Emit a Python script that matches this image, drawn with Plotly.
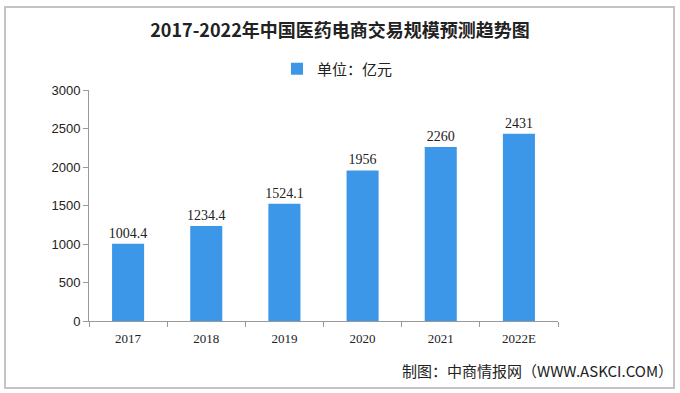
import plotly.graph_objects as go

categories = ["2017", "2018", "2019", "2020", "2021", "2022E"]
values = [1004.4, 1234.4, 1524.1, 1956, 2260, 2431]
value_labels = ["1004.4", "1234.4", "1524.1", "1956", "2260", "2431"]
y_ticks = [0, 500, 1000, 1500, 2000, 2500, 3000]

PW, PH, L, T = 469, 231, 89, 90


def px_x(x):
    return (x - L) / PW


def px_y(y):
    return (T + PH - y) / PH


fig = go.Figure()
fig.add_trace(go.Bar(
    x=categories, y=values, name="单位：亿元",
    marker=dict(color="#3d97e8", line=dict(width=0)),
    text=value_labels, textposition="outside", cliponaxis=False, constraintext="none",
    textfont=dict(family="Liberation Serif, DejaVu Serif, serif", size=14, color="#222"),
))

fig.update_layout(
    width=680, height=393,
    margin=dict(l=L, r=680 - L - PW, t=T, b=393 - T - PH),
    paper_bgcolor="white", plot_bgcolor="white",
    bargap=0.59,
    title=dict(text="<b>2017-2022年中国医药电商交易规模预测趋势图</b>",
               x=0.5, xref="container", xanchor="center", y=1 - 31 / 393, yanchor="middle",
               font=dict(family="Noto Sans CJK SC", size=18, color="#222")),
    showlegend=True,
    legend=dict(orientation="h", x=px_x(277), xref="paper", xanchor="left",
                y=px_y(69), yanchor="middle",
                font=dict(family="Noto Sans CJK SC", size=15, color="#222"),
                itemwidth=30),
    xaxis=dict(type="category", showline=True, linecolor="#999", linewidth=1,
               ticks="outside", tickson="boundaries", ticklen=5, tickcolor="#999",
               ticklabelstandoff=5,
               tickfont=dict(family="Liberation Serif, DejaVu Serif, serif", size=13, color="#222"),
               showgrid=False),
    yaxis=dict(range=[0, 3000], tickvals=y_ticks, showline=True, linecolor="#999", linewidth=1,
               ticks="outside", ticklen=5, tickcolor="#999", showgrid=False, zeroline=False,
               tickfont=dict(family="Liberation Sans, Arial, sans-serif", size=13, color="#222")),
)

fig.add_annotation(text="制图：中商情报网（WWW.ASKCI.COM）", xref="paper", yref="paper",
                   x=px_x(675), y=px_y(370), xanchor="right", yanchor="middle",
                   showarrow=False,
                   font=dict(family="Noto Sans CJK SC", size=15, color="#222"))
fig.add_shape(type="rect", xref="paper", yref="paper", layer="below",
              x0=px_x(5), x1=px_x(674), y0=px_y(388), y1=px_y(7),
              line=dict(color="#c4c4c4", width=2), fillcolor="rgba(0,0,0,0)")

fig.write_html("out.html", config={"displayModeBar": False},
               post_script="document.body.style.margin='0';")
